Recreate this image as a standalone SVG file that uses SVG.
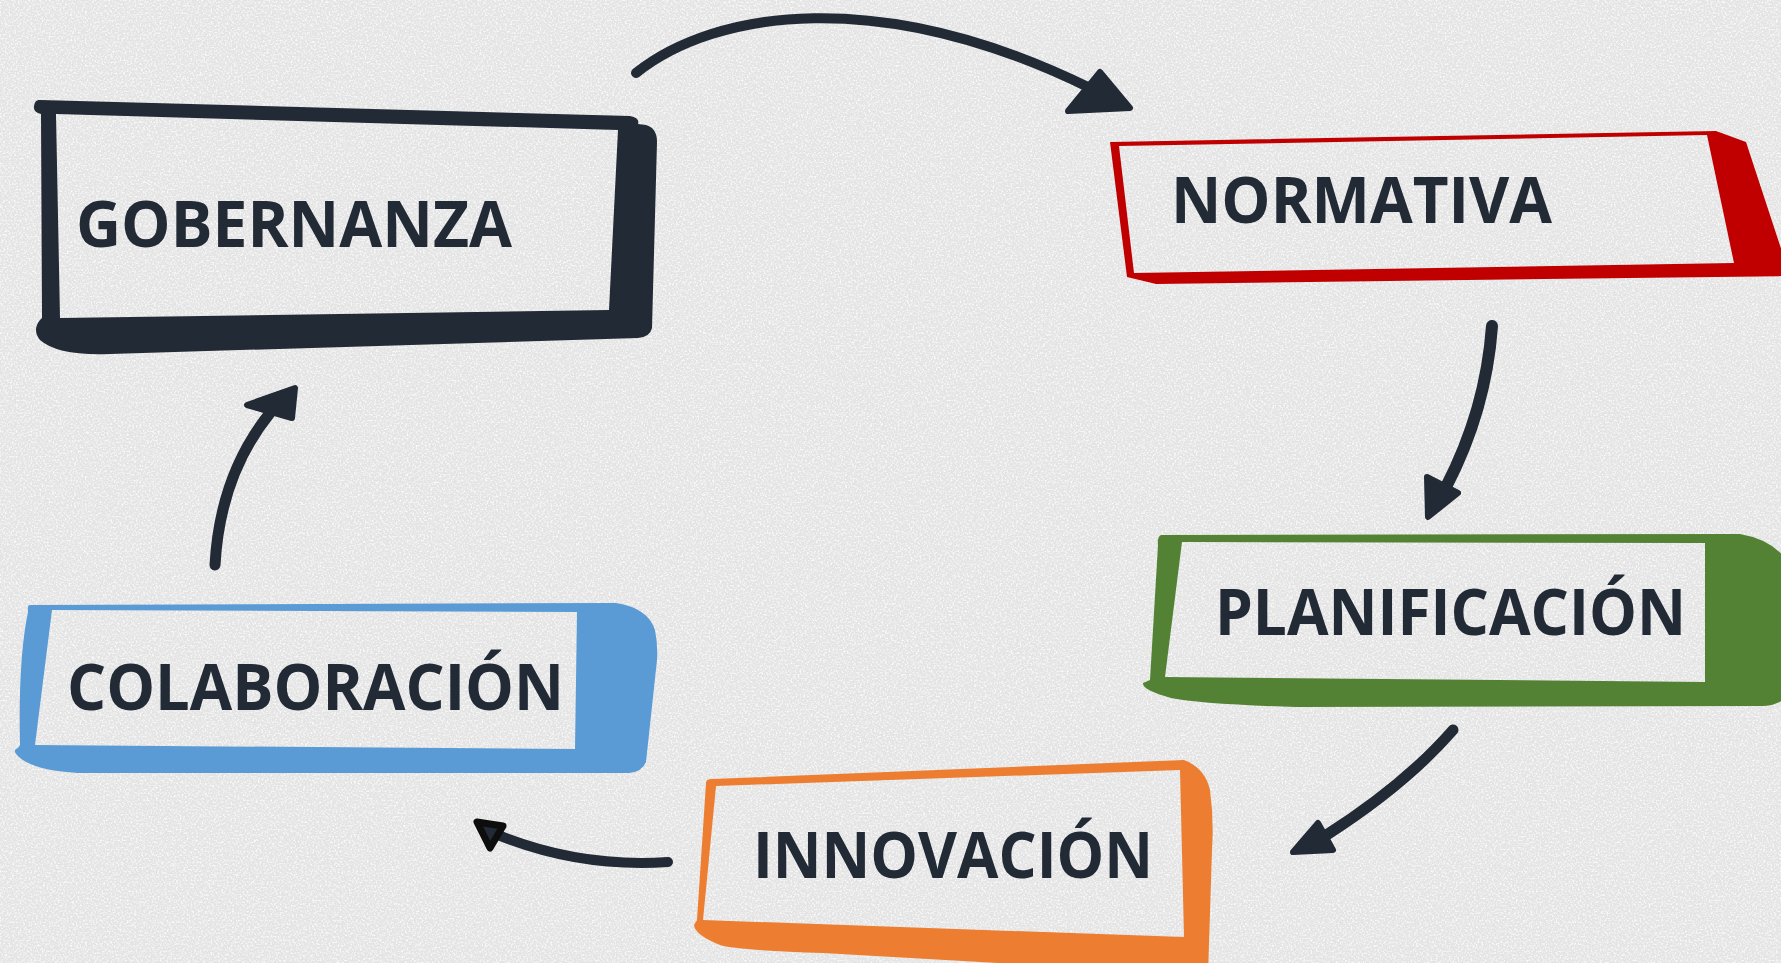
<svg xmlns="http://www.w3.org/2000/svg" width="1781" height="963" viewBox="0 0 1781 963">
  <defs>
    <filter id="tex" x="0" y="0" width="100%" height="100%">
      <feTurbulence type="fractalNoise" baseFrequency="0.55" numOctaves="3" seed="7" result="n"/>
      <feColorMatrix in="n" type="matrix" values="0 0 0 0 1  0 0 0 0 1  0 0 0 0 1  3.5 0 0 0 -1.6"/>
    </filter>
    <style>
      .lbl { font-family: "Open Sans", "Liberation Sans", sans-serif; font-weight: 700; font-size: 64px; fill: #222a35; }
      .frame { fill-rule: evenodd; stroke: none; }
      .shaft { fill: none; stroke: #222a35; stroke-linecap: round; stroke-linejoin: round; }
      .head { fill: #222a35; stroke: #222a35; stroke-width: 6; stroke-linejoin: round; }
    </style>
  </defs>

  <rect x="0" y="0" width="1781" height="963" fill="#e4e4e4"/>
  <rect x="0" y="0" width="1781" height="963" filter="url(#tex)" opacity="0.75"/>

  <g id="gobernanza">
    <path class="frame" fill="#222a35" d="M40,100 L630,116 Q640,118 638,124 L646,125 Q657,128 657,142 L652,328 Q650,337 638,338 L110,354 Q58,356 40,340 Q32,330 40,320 L42,318 L41,114 Q33,112 34,106 Q35,99 40,100 Z M56,114 L618,130 L609,310 L60,318 Z"/>
    <text class="lbl" x="76" y="247" textLength="436" lengthAdjust="spacingAndGlyphs">GOBERNANZA</text>
  </g>

  <g id="normativa">
    <path class="frame" fill="#c00000" d="M1110,142 L1716,131 L1746,142 L1790,276 L1156,284 L1127,277 Z M1119,146 L1707,135 L1734,263 L1134,273 Z"/>
    <text class="lbl" x="1171" y="223" font-size="65" textLength="381" lengthAdjust="spacingAndGlyphs">NORMATIVA</text>
  </g>

  <g id="planificacion">
    <path class="frame" fill="#548235" d="M1161,535 L1740,534 Q1775,540 1790,565 L1790,693 Q1780,706 1762,706 L1296,707 Q1200,704 1171,698 Q1142,690 1143,683 L1150,680 L1158,545 Q1157,537 1161,535 Z M1182,542 L1705,543 L1705,682 L1165,677 Z"/>
    <text class="lbl" x="1215" y="635" textLength="471" lengthAdjust="spacingAndGlyphs">PLANIFICACIÓN</text>
  </g>

  <g id="innovacion">
    <path class="frame" fill="#ed7d31" d="M712,779 L1184,760 Q1205,768 1210,790 Q1214,820 1212,850 L1208,975 L823,953 Q735,950 720,945 Q695,935 694,925 L697,920 L706,783 Q706,779 712,779 Z M716,786 L1180,770 L1184,937 L703,920 Z"/>
    <text class="lbl" x="753" y="878" textLength="400" lengthAdjust="spacingAndGlyphs">INNOVACIÓN</text>
  </g>

  <g id="colaboracion">
    <path class="frame" fill="#5b9bd5" d="M30,605 L616,603 Q648,608 655,630 Q658,645 657,660 L646,762 Q642,772 629,773 L78,773 Q30,770 17,755 Q12,750 18,748 L20,745 Q18,660 28,612 Q27,605 30,605 Z M52,610 L577,612 L575,749 L35,745 Z"/>
    <text class="lbl" x="67" y="710" textLength="497" lengthAdjust="spacingAndGlyphs">COLABORACIÓN</text>
  </g>

  <g id="connectors">
    <path class="shaft" stroke-width="10" d="M636,73 C715,10 880,-15 1090,88"/>
    <polygon class="head" points="1100,72 1130,108 1068,111"/>

    <path class="shaft" stroke-width="12" d="M1492,326 Q1486,410 1446,487"/>
    <polygon class="head" points="1427,477 1458,493 1428,517"/>

    <path class="shaft" stroke-width="11" d="M1453,730 Q1405,785 1325,836"/>
    <polygon class="head" points="1318,823 1333,850 1293,852"/>

    <path class="shaft" stroke="#0d0d0d" stroke-width="10" d="M668,862 Q580,868 498,835"/>
    <polygon points="477,822 503,826 490,848" fill="#222a35" stroke="#0d0d0d" stroke-width="7" stroke-linejoin="round"/>

    <path class="shaft" stroke-width="11" d="M215,565 Q220,475 270,413"/>
    <polygon class="head" points="295,388 292,418 247,405"/>
  </g>
</svg>
